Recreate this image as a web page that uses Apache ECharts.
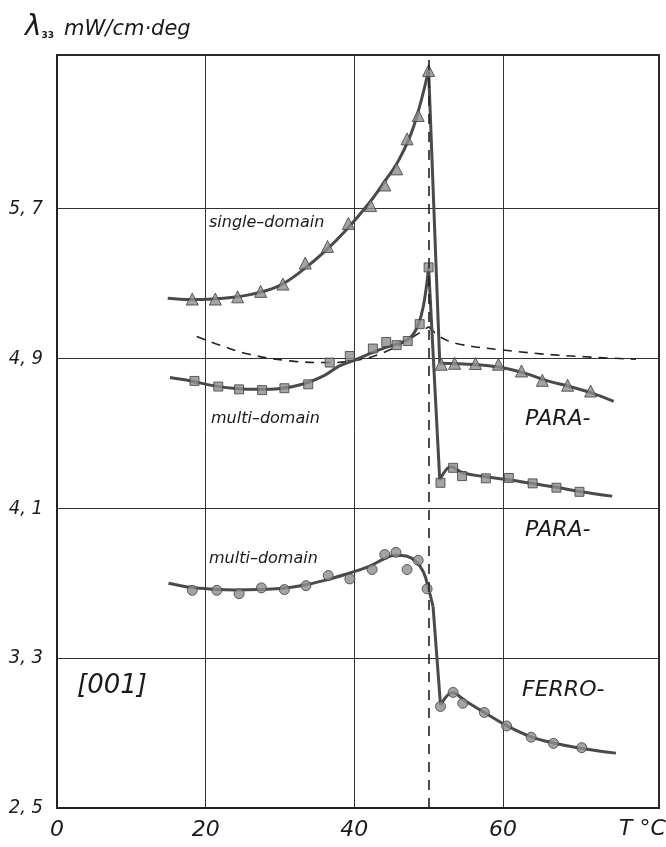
<!DOCTYPE html>
<html>
<head>
<meta charset="utf-8">
<script src="https://cdn.jsdelivr.net/npm/echarts@6/dist/echarts.min.js"></script>
<style>html,body{margin:0;padding:0;background:#fff;}#c{width:666px;height:847px;}</style>
</head>
<body>
<div id="c"></div>
<script>
// ---- axis ticks ----
const xTicks = [0, 20, 40, 60];
const yTicks = [2.5, 3.3, 4.1, 4.9, 5.7];

// ---- single-domain (triangles) ----
const sdMarkT = [18.2,21.3,24.3,27.4,30.4,33.4,36.4,39.2,42.2,44.1,45.7,47.1,48.6,50.0,51.7,53.5,56.3,59.4,62.5,65.3,68.7,71.8];
const sdMarkV = [5.217,5.217,5.229,5.258,5.297,5.409,5.498,5.621,5.716,5.826,5.912,6.072,6.197,6.437,4.869,4.874,4.873,4.869,4.833,4.783,4.757,4.726];
const sdLowT = [14.9,18,21,24,27,30,33,36,39,42,44,46,48,50];
const sdLowV = [5.222,5.215,5.218,5.228,5.25,5.29,5.37,5.47,5.59,5.73,5.84,5.96,6.14,6.44];
const sdDropT = [50, 51.5];
const sdDropV = [6.44, 4.875];
const sdHighT = [51.5,54,57,60,63,66,69,72,74.9];
const sdHighV = [4.875,4.872,4.865,4.85,4.82,4.78,4.75,4.715,4.671];

// ---- multi-domain, upper (squares) ----
const mdMarkT = [18.5,21.7,24.5,27.6,30.6,33.8,36.7,39.4,42.5,44.3,45.7,47.2,48.8,50.0,51.6,53.3,54.5,57.7,60.8,64.0,67.2,70.3];
const mdMarkV = [4.780,4.750,4.735,4.731,4.741,4.762,4.878,4.913,4.953,4.988,4.971,4.993,5.083,5.386,4.236,4.316,4.272,4.260,4.262,4.233,4.210,4.188];
const mdLowT = [15.2,18,21,24,27,30,33,36,38,40,42,44,46,47.5,48.5,49.3,50];
const mdLowV = [4.798,4.78,4.755,4.74,4.735,4.74,4.762,4.81,4.86,4.89,4.925,4.955,4.98,5.01,5.07,5.18,5.386];
const mdDropT = [50, 51.5];
const mdDropV = [5.386, 4.25];
const mdHighT = [51.5,53.0,54.6,57.7,60.8,64,67.2,70.3,74.7];
const mdHighV = [4.25,4.322,4.29,4.268,4.252,4.232,4.212,4.19,4.165];

// ---- dashed curve ----
const dashLowT = [18.8,22,25.9,31.3,36.7,40.3,43.9,47.4,50];
const dashLowV = [5.017,4.97,4.922,4.887,4.878,4.89,4.931,5.003,5.07];
const dashHighT = [50,51.7,54.2,60,67.6,77.9];
const dashHighV = [5.07,5.012,4.976,4.945,4.917,4.896];

// ---- multi-domain, lower (circles) ----
const lmMarkT = [18.2,21.5,24.5,27.5,30.6,33.5,36.5,39.4,42.4,44.1,45.6,47.1,48.6,49.8,51.6,53.3,54.6,57.5,60.5,63.8,66.8,70.6];
const lmMarkV = [3.662,3.662,3.644,3.675,3.666,3.687,3.741,3.723,3.773,3.853,3.865,3.773,3.822,3.670,3.042,3.117,3.059,3.010,2.938,2.878,2.845,2.822];
const lmLowT = [15,18,21,24,27,30,33,36,39,42,44,45.5,47,48.3,49.3,50.0,50.6];
const lmLowV = [3.70,3.678,3.668,3.664,3.666,3.672,3.688,3.715,3.75,3.79,3.83,3.85,3.845,3.815,3.76,3.67,3.575];
const lmDropT = [50.6, 51.6];
const lmDropV = [3.575, 3.05];
const lmHighT = [51.6,53.2,55,57.5,60.5,63.8,66.8,70.6,75.2];
const lmHighV = [3.05,3.115,3.07,3.01,2.94,2.88,2.847,2.818,2.793];

// ---- transition temperature ----
const tc = [50];

const zip = (a, b) => a.map((v, i) => [v, b[i]]);
const FONT = "'DejaVu Sans',sans-serif";
const LINE = '#4a4a4a';
const MFILL = '#8d8d8d';
const MEDGE = '#3f3f3f';

function curve(t, v, smooth) {
  return { type: 'line', data: zip(t, v), smooth: smooth ? 0.4 : false, showSymbol: false, symbol: 'none',
    lineStyle: { color: LINE, width: 3 }, z: 3, silent: true };
}
function marks(t, v, sym, size) {
  return { type: 'scatter', data: zip(t, v), symbol: sym, symbolSize: size,
    itemStyle: { color: MFILL, borderColor: MEDGE, borderWidth: 1 }, z: 4, silent: true };
}
function dashed(t, v) {
  return { type: 'line', data: zip(t, v), smooth: 0.4, symbol: 'none', showSymbol: false,
    lineStyle: { color: '#222', width: 1.6, type: [9, 7] }, z: 2, silent: true };
}

const chart = echarts.init(document.getElementById('c'), null, { renderer: 'canvas' });
const txt = (s, left, top, size) => ({
  type: 'text', left: left, top: top,
  style: { text: s, font: 'italic ' + size + 'px ' + FONT, fill: '#1a1a1a' }
});

chart.setOption({
  animation: false,
  backgroundColor: '#fff',
  grid: { left: 57, right: 7, top: 55, bottom: 39, show: true, borderColor: '#2a2a2a', borderWidth: 2, backgroundColor: 'transparent' },
  xAxis: {
    type: 'value', min: 0, max: 81, interval: 20,
    axisLine: { show: true, lineStyle: { color: '#222', width: 2 } },
    axisTick: { show: false },
    splitLine: { show: true, lineStyle: { color: ['#333', '#333', '#333', '#333', 'transparent', 'transparent'], width: 1 } },
    axisLabel: { margin: 11, fontSize: 22, fontStyle: 'italic', fontFamily: FONT, color: '#1a1a1a',
      formatter: v => xTicks.includes(v) ? String(v) : '' }
  },
  yAxis: {
    type: 'value', min: 2.5, max: 6.52, interval: 0.8,
    axisLine: { show: true, lineStyle: { color: '#222', width: 2 } },
    axisTick: { show: false },
    splitLine: { show: true, lineStyle: { color: ['#333', '#333', '#333', '#333', '#333', 'transparent', 'transparent'], width: 1 } },
    axisLabel: { margin: 14, fontSize: 20, fontStyle: 'italic', fontFamily: "'DejaVu Sans Condensed','DejaVu Sans',sans-serif", color: '#1a1a1a', padding: [0, 0, 16, 0],
      formatter: v => { const k = yTicks.findIndex(t => Math.abs(t - v) < 1e-6); return k < 0 ? '' : yTicks[k].toFixed(1).replace('.', ', '); } }
  },
  series: [
    { type: 'line', data: [], markLine: { silent: true, symbol: 'none', label: { show: false },
        lineStyle: { color: '#222', width: 1.6, type: [10, 8] }, data: tc.map(t => ({ xAxis: t })) }, z: 1 },
    dashed(dashLowT, dashLowV),
    dashed(dashHighT, dashHighV),
    curve(sdLowT, sdLowV, true), curve(sdDropT, sdDropV, false), curve(sdHighT, sdHighV, true),
    curve(mdLowT, mdLowV, true), curve(mdDropT, mdDropV, false), curve(mdHighT, mdHighV, true),
    curve(lmLowT, lmLowV, true), curve(lmDropT, lmDropV, false), curve(lmHighT, lmHighV, true),
    marks(sdMarkT, sdMarkV, 'triangle', 12),
    marks(mdMarkT, mdMarkV, 'rect', 9),
    marks(lmMarkT, lmMarkV, 'circle', 10)
  ],
  graphic: [
    { type: 'text', left: 25, top: 14, style: { rich: { l: { font: 'italic 28px ' + FONT, fill: '#1a1a1a' }, s: { font: 'bold 9px ' + FONT, fill: '#1a1a1a', padding: [16, 0, 0, 0] }, u: { font: 'italic 21px ' + FONT, fill: '#1a1a1a', padding: [4, 0, 0, 0] } }, text: '{l|λ}{s|33}   {u|mW/cm·deg}' } },
    txt('single–domain', 209, 215, 16),
    txt('multi–domain', 211, 411, 16),
    txt('PARA-', 525, 408, 22),
    txt('PARA-', 525, 519, 22),
    txt('multi–domain', 209, 551, 16),
    txt('FERRO-', 522, 679, 22),
    txt('[001]', 77, 673, 26),
    txt('T °C', 619, 818, 22)
  ]
});
</script>
</body>
</html>
